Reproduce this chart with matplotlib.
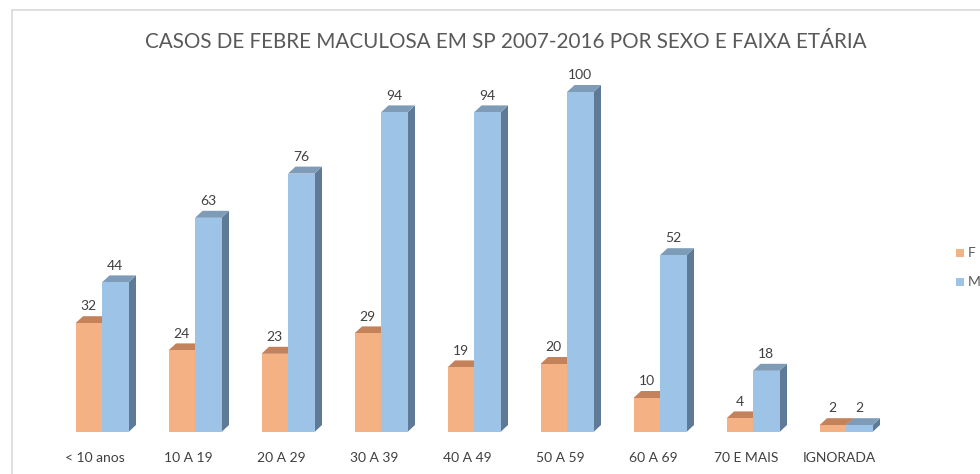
import matplotlib.pyplot as plt
from matplotlib.patches import Polygon, Rectangle

plt.rcParams['font.family'] = ['Lato', 'DejaVu Sans']

categories = ['< 10 anos', '10 A 19', '20 A 29', '30 A 39', '40 A 49',
              '50 A 59', '60 A 69', '70 E MAIS', 'IGNORADA']
fem = [32, 24, 23, 29, 19, 20, 10, 4, 2]
masc = [44, 63, 76, 94, 94, 100, 52, 18, 2]
series_names = ['F', 'M']

# colours: front, top, side
orange = ('#F4B183', '#C3825A', '#B07048')
blue = ('#9DC3E6', '#7E9CB8', '#5F7A96')

W, H = 980, 474
fig = plt.figure(figsize=(W / 100, H / 100), dpi=100)

# pixel geometry of the plot area
x_left, x_right = 55.5, 892.5
y_base, y_top = 432, 58
ax = fig.add_axes([x_left / W, (H - y_base) / H,
                   (x_right - x_left) / W, (y_base - y_top) / H])
ax.set_xlim(-0.5, 8.5)
ax.set_ylim(0, 110)
ax.axis('off')

px_x = (x_right - x_left) / 9.0      # pixels per x unit
px_y = (y_base - y_top) / 110.0      # pixels per y unit
bw = 26.5 / px_x
dx = 7.5 / px_x
dy = 7.0 / px_y


def bar3d(x0, h, cols):
    front, top, side = cols
    x1 = x0 + bw
    ax.add_patch(Polygon([(x1, 0), (x1 + dx, dy), (x1 + dx, h + dy), (x1, h)],
                         closed=True, fc=side, ec='none', clip_on=False))
    ax.add_patch(Polygon([(x0, h), (x1, h), (x1 + dx, h + dy), (x0 + dx, h + dy)],
                         closed=True, fc=top, ec='none', clip_on=False))
    ax.add_patch(Rectangle((x0, 0), bw, h, fc=front, ec='none', clip_on=False))
    ax.annotate(str(h), (x0 + bw / 2, h + dy), xytext=(0, 7), textcoords='offset points',
                ha='center', va='center', fontsize=10, color='#404040')


for i in range(len(categories)):
    bar3d(i - bw, fem[i], orange)
    bar3d(i, masc[i], blue)
    ax.text(i - 7 / px_x, -26 / px_y, categories[i], ha='center', va='center',
            fontsize=10, color='#404040', clip_on=False)

# chart border (partially visible)
fig.add_artist(plt.Line2D([12 / W, 12 / W], [0, 1 - 10 / H], color='#D9D9D9', lw=1.2))
fig.add_artist(plt.Line2D([12 / W, 1], [1 - 10 / H, 1 - 10 / H], color='#D9D9D9', lw=1.2))

fig.text(506 / W, 1 - 42 / H, 'CASOS DE FEBRE MACULOSA EM SP 2007-2016 POR SEXO E FAIXA ETÁRIA',
         ha='center', va='center', fontsize=14.9, color='#595959')

# legend
for k, (name, col) in enumerate(zip(series_names, [orange[0], blue[0]])):
    yc = 253 + k * 29
    fig.add_artist(Rectangle(((956) / W, 1 - (yc + 4) / H), 8 / W, 8 / H,
                             fc=col, ec='none', transform=fig.transFigure))
    fig.text(968 / W, 1 - yc / H, name, ha='left', va='center', fontsize=10, color='#595959')

fig.savefig('out.png', dpi=100)
